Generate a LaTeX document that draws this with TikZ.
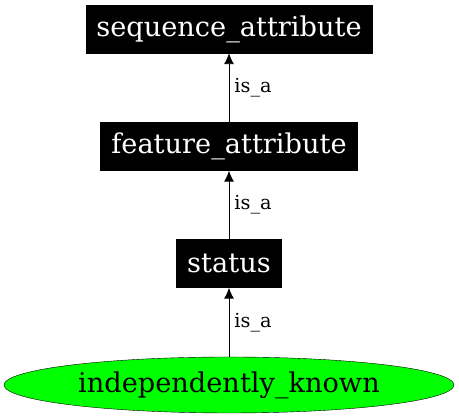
\documentclass[tikz,border=0pt]{standalone}
\usepackage{fontspec}
\setmainfont{DejaVu Serif}
\usetikzlibrary{arrows.meta,positioning,shapes.geometric}

\begin{document}
\begin{tikzpicture}[
  x=1pt, y=1pt,
  term/.style={fill=black, draw=black, text=white, inner sep=0pt,
    minimum height=48pt, font=\fontsize{27.2}{30}\selectfont},
  leaf/.style={draw, ellipse, fill=green, inner sep=0pt,
    minimum height=56pt, font=\fontsize{27.2}{30}\selectfont},
  isa/.style={-{Latex[length=11pt,width=10pt]}, line width=0.9pt},
  rel/.style={right, inner sep=5pt, font=\fontsize{19.3}{22}\selectfont}
]
\useasboundingbox (0,0) rectangle (459,419);
\node[term, minimum width=286pt] (seqattr) at (229,390) {sequence\_attribute};
\node[term, minimum width=257pt] (featattr) at (229,272.5) {feature\_attribute};
\node[term, minimum width=105pt] (status) at (229,155.5) {status};
\node[leaf, minimum width=450pt] (indep) at (229,34) {independently\_known};

\draw[isa] (featattr) -- node[rel]{is\_a} (seqattr);
\draw[isa] (status) -- node[rel]{is\_a} (featattr);
\draw[isa] (indep) -- node[rel]{is\_a} (status);
\end{tikzpicture}
\end{document}
